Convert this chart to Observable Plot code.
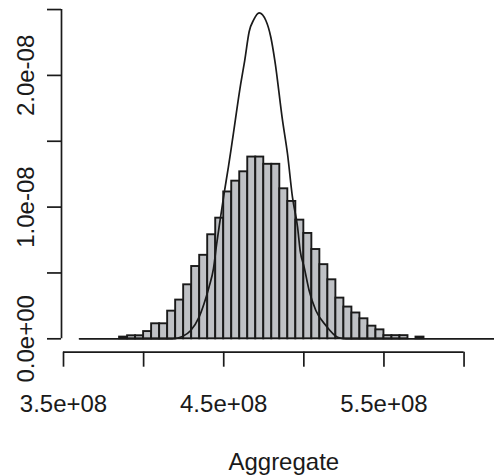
<!DOCTYPE html>
<html><head><meta charset="utf-8">
<script src="https://cdn.jsdelivr.net/npm/d3@7"></script>
<script src="https://cdn.jsdelivr.net/npm/@observablehq/plot@0.6"></script>
<style>body{margin:0;background:#fff}</style>
</head><body><div id="chart"></div>
<script>
// histogram bins (left edges) and densities (units of 1e-8)
const binLeft = [3.85e8,3.90e8,3.95e8,4.00e8,4.05e8,4.10e8,4.15e8,4.20e8,4.25e8,4.30e8,
                 4.35e8,4.40e8,4.45e8,4.50e8,4.55e8,4.60e8,4.65e8,4.70e8,4.75e8,4.80e8,
                 4.85e8,4.90e8,4.95e8,5.00e8,5.05e8,5.10e8,5.15e8,5.20e8,5.25e8,5.30e8,
                 5.35e8,5.40e8,5.45e8,5.50e8,5.55e8,5.60e8,5.65e8,5.70e8];
const binWidth = 5e6;
const density = [0.013,0.023,0.023,0.055,0.114,0.114,0.210,0.294,0.410,0.549,
                 0.634,0.790,0.916,1.115,1.197,1.268,1.380,1.380,1.325,1.325,
                 1.139,1.043,0.901,0.800,0.678,0.563,0.448,0.309,0.241,0.196,
                 0.152,0.096,0.068,0.024,0.024,0.024,0.000,0.013];
// density curve points (x in 1e6, y in 1e-8)
const curveX = [360,417.9,424.2,429.4,434.6,437.7,440.8,443.6,445.6,447.7,450.2,452.9,455.4,460.6,463.1,465.9,468.75,472.1,
                476.3,479.4,481.9,486.7,489.8,492.9,496.1,497.7,500.2,503.3,507.5,513.75,521.1,526.25,620];
const curveY = [0,0,0.0175,0.063,0.164,0.266,0.392,0.532,0.721,0.898,1.101,1.303,1.506,1.936,2.113,2.333,2.423,2.475,
                2.417,2.290,2.113,1.658,1.405,1.075,0.847,0.670,0.544,0.367,0.215,0.101,0.012,0,0];
const xTicks = [3.5e8,4.0e8,4.5e8,5.0e8,5.5e8,6.0e8];
const xTickLabels = [3.5e8,4.5e8,5.5e8];
const yTicks = [0,0.5e-8,1.0e-8,1.5e-8,2.0e-8,2.5e-8];
const yTickLabels = [0,1.0e-8,2.0e-8];
const xLabel = "Aggregate";

function fmtR(v){
  return v.toExponential(1).replace(/e([+-])(\d+)$/, (m, sg, d) => "e" + sg + d.padStart(2, "0"));
}

const bins = binLeft.map((x, i) => ({x1: x, x2: x + binWidth, d: density[i] * 1e-8}));
const curve = curveX.map((x, i) => ({x: x * 1e6, y: curveY[i] * 1e-8}));

const W = 494, H = 475;
const xDomain = [3.4875e8, 6.19e8];
const yDomain = [-0.1017e-8, 2.5e-8];
const ink = "#1a1a1a";
const fs = 24;

const chart = Plot.plot({
  width: W, height: H,
  marginLeft: 61, marginRight: 0, marginTop: 9.05, marginBottom: 123.3,
  style: {fontFamily: "'Liberation Sans', Arial, sans-serif", color: ink, background: "#fff"},
  x: {domain: xDomain},
  y: {domain: yDomain},
  marks: [
    Plot.rectY(bins, {x1: "x1", x2: "x2", y: "d", inset: 0, fill: "#bfc1c5", stroke: ink, strokeWidth: 1.9}),
    Plot.line(curve, {x: "x", y: "y", curve: "monotone-x", stroke: ink, strokeWidth: 1.7}),
    Plot.ruleY([yDomain[0]], {x1: xTicks[0], x2: xTicks[xTicks.length - 1], stroke: ink, strokeWidth: 1.7}),
    Plot.ruleX([xDomain[0]], {y1: yTicks[0], y2: yTicks[yTicks.length - 1], stroke: ink, strokeWidth: 1.7}),
    Plot.axisX({ticks: xTicks, tickSize: 15, tickPadding: 27.5, fontSize: fs, label: null, strokeWidth: 1.7,
                tickFormat: d => xTickLabels.includes(d) ? fmtR(d) : ""}),
    Plot.axisY({ticks: yTicks, tickSize: 14, label: null, strokeWidth: 1.7, tickFormat: () => ""}),
    Plot.text(yTickLabels, {y: d => d, text: d => fmtR(d), frameAnchor: "left", rotate: -90,
                            textAnchor: "middle", lineAnchor: "bottom", dx: -28, fontSize: fs, fill: ink}),
    Plot.text([xLabel], {text: d => d, frameAnchor: "bottom", dx: 5.8, dy: 117.3, lineAnchor: "bottom",
                         fontSize: fs, fill: ink})
  ]
});
document.getElementById("chart").appendChild(chart);
</script>
</body></html>
